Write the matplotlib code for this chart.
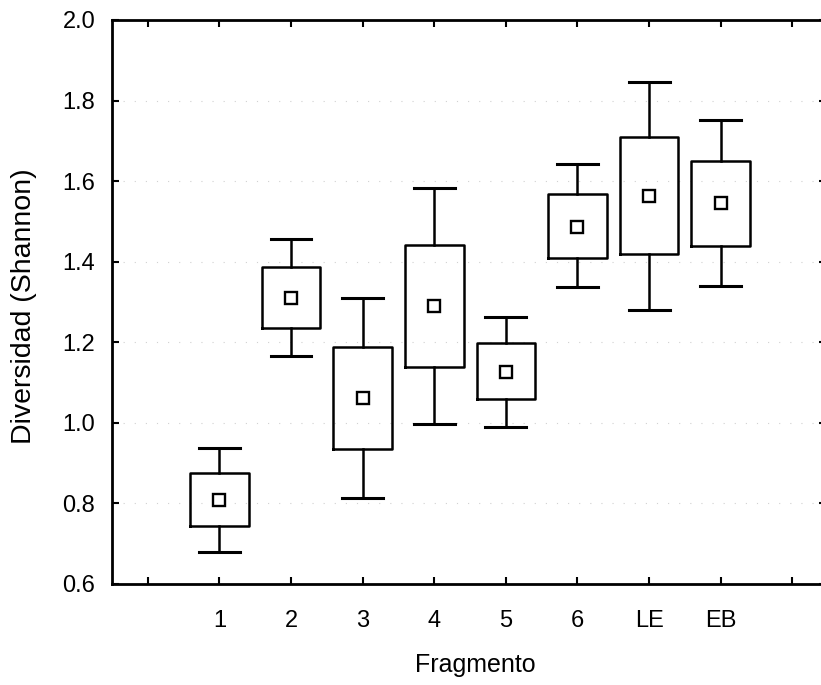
import matplotlib
matplotlib.use("Agg")
import matplotlib.pyplot as plt

plt.rcParams['font.family'] = ['Liberation Sans', 'DejaVu Sans']

# values
fragmentos = ['1', '2', '3', '4', '5', '6', 'LE', 'EB']
media = [0.808, 1.309, 1.061, 1.290, 1.125, 1.487, 1.564, 1.545]
caja_inf = [0.744, 1.235, 0.934, 1.139, 1.058, 1.410, 1.418, 1.440]
caja_sup = [0.876, 1.387, 1.189, 1.441, 1.197, 1.568, 1.710, 1.650]
bigote_inf = [0.680, 1.165, 0.814, 0.996, 0.990, 1.336, 1.280, 1.340]
bigote_sup = [0.937, 1.457, 1.309, 1.584, 1.263, 1.643, 1.847, 1.752]

stats = []
for i, lab in enumerate(fragmentos):
    stats.append({'label': lab, 'mean': media[i], 'med': media[i],
                  'q1': caja_inf[i], 'q3': caja_sup[i],
                  'whislo': bigote_inf[i], 'whishi': bigote_sup[i],
                  'fliers': []})

fig = plt.figure(figsize=(8.21, 6.85), dpi=100)
ax = fig.add_axes([112 / 821, 101 / 685, 714 / 821, 564 / 685])

pos = list(range(1, len(fragmentos) + 1))
ax.bxp(stats, positions=pos, widths=0.82, showmeans=True, showfliers=False,
       boxprops=dict(color='black', linewidth=1.8),
       whiskerprops=dict(color='black', linewidth=1.8),
       capprops=dict(color='black', linewidth=2.2),
       medianprops=dict(linewidth=0),
       meanprops=dict(marker='s', markersize=9, markerfacecolor='white',
                      markeredgecolor='black', markeredgewidth=1.7),
       capwidths=0.57, manage_ticks=False)

ax.set_xlim(-0.5, 9.47)
ax.set_ylim(0.6, 2.0)
ax.set_xticks(range(0, 10))
ax.set_xticklabels([''] + fragmentos + [''])
ax.set_yticks([0.6, 0.8, 1.0, 1.2, 1.4, 1.6, 1.8, 2.0])
ax.set_yticklabels(['0.6', '0.8', '1.0', '1.2', '1.4', '1.6', '1.8', '2.0'])

# faint dotted guide lines, barely visible in the scan
ax.yaxis.grid(True, linestyle=(0, (1, 9)), color='0.82', linewidth=0.8)
ax.set_axisbelow(True)

ax.tick_params(axis='both', direction='in', length=5, width=1.5,
               top=True, right=True, labelsize=17, colors='black')
ax.tick_params(axis='x', pad=19)
ax.tick_params(axis='y', pad=12)
for s in ax.spines.values():
    s.set_linewidth(2.0)

fig.text(475 / 821, 1 - 665 / 685, 'Fragmento', fontsize=18,
         ha='center', va='center')
fig.text(24 / 821, 1 - 306 / 685, 'Diversidad (Shannon)', fontsize=20.5,
         rotation=90, ha='center', va='center')

fig.savefig('out.png', dpi=100)
